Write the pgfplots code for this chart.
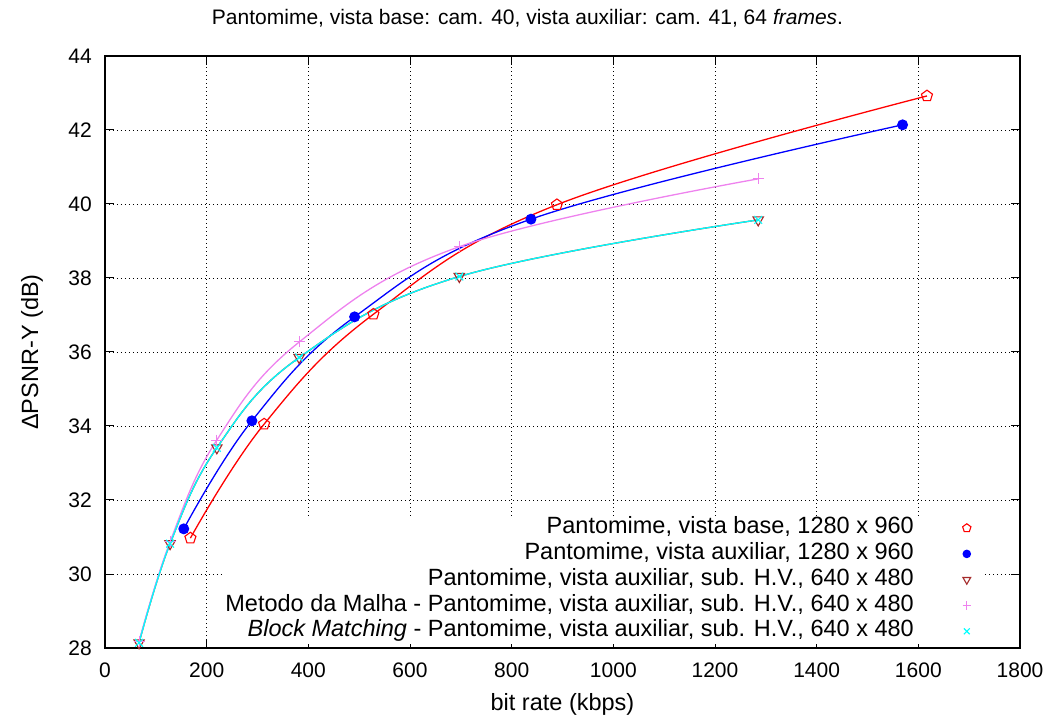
\documentclass[border=0pt]{standalone}
\usepackage{fontspec}
\setmainfont{Liberation Sans}
\usepackage{pgfplots}
\pgfplotsset{compat=1.18}
\definecolor{gbrown}{RGB}{165,42,42}
\definecolor{gviolet}{RGB}{238,130,238}
\definecolor{gcyan}{RGB}{0,255,255}
\begin{document}
\fontsize{21bp}{25bp}\selectfont
\begin{tikzpicture}
\begin{axis}[
  name=ax,
  scale only axis,
  width=915bp, height=592bp,
  xmin=0, xmax=1800, ymin=28, ymax=44,
  xtick={0,200,...,1800}, ytick={28,30,...,44},
  /pgf/number format/assume math mode=true,
  /pgf/number format/set thousands separator={},
  tick label style={font=\fontsize{21bp}{25bp}\selectfont},
  xticklabel style={inner sep=0pt, anchor=north, yshift=-14.5bp},
  yticklabel style={inner sep=0pt, anchor=east, xshift=-13bp},
  tick align=inside,
  major tick length=9bp,
  tick style={black, line width=1bp},
  axis line style={black, line width=1.5bp},
  grid=major,
  grid style={black, line width=0.8bp, dash pattern=on 1bp off 3bp},
  every axis x label/.style={at={(axis description cs:0.5,0)}, yshift=-56bp, anchor=center, font=\fontsize{23.5bp}{28bp}\selectfont},
  every axis y label/.style={at={(axis description cs:0,0.5)}, xshift=-73bp, rotate=90, anchor=center, font=\fontsize{23.5bp}{28bp}\selectfont},
  xlabel={bit rate (kbps)},
  ylabel={ΔPSNR-Y (dB)},
  legend plot pos=right,
  legend cell align=right,
  legend style={draw=none, fill=white, at={(1,0)}, anchor=south east, xshift=-38bp, yshift=4bp,
    inner sep=1bp, row sep=2.8bp, column sep=0bp,
    nodes={inner sep=1bp, text height=16bp, text depth=5bp},
    font=\fontsize{23.5bp}{28bp}\selectfont},
  legend image code/.code={\path[draw=none,fill=none] (0bp,0bp) -- (66bp,0bp); \draw[#1, every mark/.append style={scale=0.75}] plot[only marks] coordinates {(52bp,0bp)};},
  every axis plot/.append style={line width=1.3bp, smooth, tension=0.65},
]
\addplot[red, mark=pentagon, mark size=5.8bp, mark options={solid, line width=1.1bp}] coordinates {
(168,30.97) (313,34.05) (528,37.02) (889,39.98) (1617,42.92)};
\addlegendentry{Pantomime, vista base, 1280 x 960}
\addplot[blue, mark=*, mark size=4.8bp] coordinates {
(155,31.22) (289,34.14) (491,36.95) (838,39.59) (1569,42.14)};
\addlegendentry{Pantomime, vista auxiliar, 1280 x 960}
\addplot[gbrown, mark=triangle, mark size=6bp, mark options={rotate=180, line width=1.1bp}] coordinates {
(67,28.14) (128,30.82) (220,33.41) (382,35.85) (697,38.04) (1285,39.57)};
\addlegendentry{Pantomime, vista auxiliar, sub. H.V., 640 x 480}
\addplot[gviolet, mark=+, mark size=5.5bp, mark options={line width=1.1bp}] coordinates {
(67,28.18) (128,30.87) (220,33.62) (383,36.28) (698,38.85) (1285,40.68)};
\addlegendentry{Metodo da Malha - Pantomime, vista auxiliar, sub. H.V., 640 x 480}
\addplot[gcyan, mark=x, mark size=5.5bp, mark options={line width=1.1bp}] coordinates {
(67,28.14) (128,30.82) (220,33.41) (382,35.85) (697,38.04) (1285,39.57)};
\addlegendentry{\textit{Block Matching} - Pantomime, vista auxiliar, sub. H.V., 640 x 480}
\end{axis}
\node[font=\fontsize{21bp}{25bp}\selectfont] at ([xshift=-35bp, yshift=38bp]ax.north) {Pantomime, vista base: cam. 40, vista auxiliar: cam. 41, 64 \textit{frames}.};
\pgfresetboundingbox
\path ([xshift=-105bp,yshift=-74bp]ax.south west) rectangle ([xshift=35bp,yshift=56bp]ax.north east);
\end{tikzpicture}
\end{document}
